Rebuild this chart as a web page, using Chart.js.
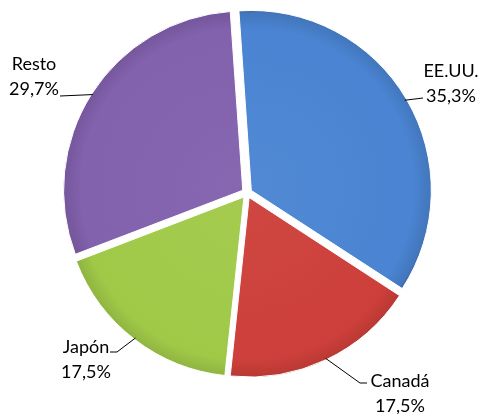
<!DOCTYPE html>
<html>
<head>
<meta charset="utf-8">
<script src="https://cdn.jsdelivr.net/npm/chart.js@4.4.0/dist/chart.umd.min.js"></script>
<style>
  html, body { margin: 0; padding: 0; background: #fff; }
</style>
</head>
<body>
<canvas id="pie" width="481" height="414"></canvas>
<script>
// data
const countries = ['EE.UU.', 'Canadá', 'Japón', 'Resto'];
const shares = [35.3, 17.5, 17.5, 29.7];
const sliceColors = ['#4a84d2', '#cd3f3a', '#a0c948', '#8261ad'];

// layout of the labels (text centre x, first baseline y, leader anchor, elbow end)
const labelSpots = [
  { x: 451, y: 77, ax: 423, ay: 98, ex: 423, ey: 98 },
  { x: 400, y: 387, ax: 367, ay: 383, ex: 360, ey: 383 },
  { x: 86, y: 353, ax: 110, ay: 352, ex: 117, ey: 352 },
  { x: 34, y: 70, ax: 60, ay: 96, ex: 60, ey: 96 }
];

const explode = 20;   // chart.js divides this by 4 when drawing
const rotationDeg = -4;
const pieRadius = 179;

function shade(hex, f) {
  const n = parseInt(hex.slice(1), 16);
  let r = n >> 16, g = (n >> 8) & 255, b = n & 255;
  if (f < 0) {
    r = r * (1 + f); g = g * (1 + f); b = b * (1 + f);
  } else {
    r = r + (255 - r) * f; g = g + (255 - g) * f; b = b + (255 - b) * f;
  }
  return `rgb(${Math.round(r)},${Math.round(g)},${Math.round(b)})`;
}

function formatShare(v) {
  return v.toFixed(1).replace('.', ',') + '%';
}

function midAngle(i) {
  const total = shares.reduce((a, b) => a + b, 0);
  let before = 0;
  for (let k = 0; k < i; k++) before += shares[k];
  return (rotationDeg - 90) * Math.PI / 180 + 2 * Math.PI * (before + shares[i] / 2) / total;
}

function sliceFill(ctx) {
  const base = sliceColors[ctx.dataIndex];
  const area = ctx.chart.chartArea;
  if (!area) return base;
  const mid = midAngle(ctx.dataIndex);
  const cx = (area.left + area.right) / 2 + Math.cos(mid) * explode / 4;
  const cy = (area.top + area.bottom) / 2 + Math.sin(mid) * explode / 4;
  const g = ctx.chart.ctx.createRadialGradient(cx, cy, 0, cx, cy, pieRadius + 1);
  g.addColorStop(0, shade(base, 0.04));
  g.addColorStop(0.88, base);
  g.addColorStop(0.97, shade(base, -0.1));
  g.addColorStop(1, shade(base, -0.3));
  return g;
}

// draws the two-line labels and their leader lines
const sliceLabels = {
  id: 'sliceLabels',
  afterDatasetsDraw(chart) {
    const c = chart.ctx;
    const arcs = chart.getDatasetMeta(0).data;
    c.save();
    c.font = '18px Lato';
    c.fillStyle = '#000';
    c.textAlign = 'center';
    c.textBaseline = 'alphabetic';
    arcs.forEach((arc, i) => {
      const spot = labelSpots[i];
      const mid = (arc.startAngle + arc.endAngle) / 2;
      const ox = arc.x + Math.cos(mid) * explode / 4;
      const oy = arc.y + Math.sin(mid) * explode / 4;
      const px = ox + Math.cos(mid) * (arc.outerRadius - 1);
      const py = oy + Math.sin(mid) * (arc.outerRadius - 1);
      c.strokeStyle = '#000';
      c.lineWidth = 1;
      c.beginPath();
      c.moveTo(spot.ax, spot.ay);
      c.lineTo(spot.ex, spot.ey);
      c.lineTo(px, py);
      c.stroke();
      c.fillText(countries[i], spot.x, spot.y);
      c.fillText(formatShare(shares[i]), spot.x, spot.y + 25);
    });
    c.restore();
  }
};

new Chart(document.getElementById('pie'), {
  type: 'pie',
  data: {
    labels: countries,
    datasets: [{
      data: shares,
      backgroundColor: sliceFill,
      borderColor: '#ffffff',
      borderWidth: 1,
      offset: explode,
      hoverOffset: explode
    }]
  },
  options: {
    responsive: false,
    animation: false,
    devicePixelRatio: 1,
    rotation: rotationDeg,
    radius: pieRadius,
    layout: { padding: { left: 13, right: 0, top: 0, bottom: 28 } },
    plugins: {
      legend: { display: false },
      tooltip: { enabled: false }
    }
  },
  plugins: [sliceLabels]
});
</script>
</body>
</html>
